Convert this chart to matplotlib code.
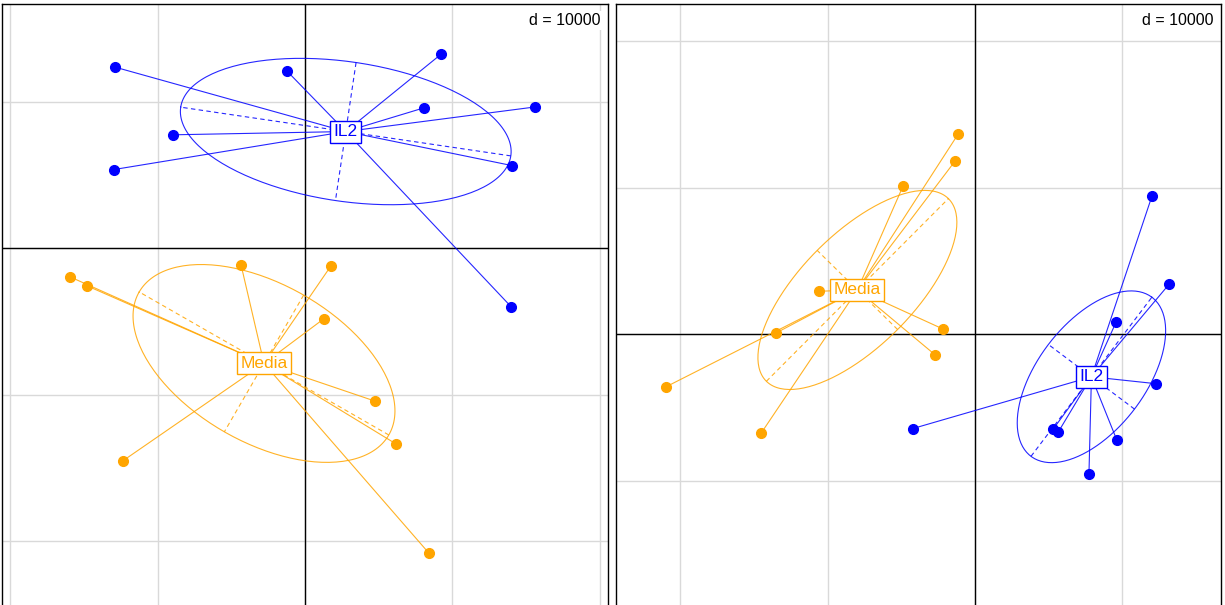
import numpy as np
import matplotlib
matplotlib.use("Agg")
import matplotlib.pyplot as plt

plt.rcParams["font.family"] = ["Liberation Sans", "DejaVu Sans"]

# -------------------------
# DATA (coordinates, units of the grid step d = 10000)
# -------------------------
left_il2_x = [-12890, -1220, 9230, 8070, 15600, -8960, -12960, 14040, 13980]
left_il2_y = [12350, 12080, 13230, 9570, 9630, 7730, 5360, 5630, -4000]
left_media_x = [-15940, -14790, -4340, 1760, 1290, 4750, 6170, -12350, 8410]
left_media_y = [-1970, -2580, -1150, -1220, -4820, -10450, -13370, -14520, -20830]

right_media_x = [-1150, -1360, -4880, -10580, -13500, -20960, -2170, -2710, -14520]
right_media_y = [13640, 11800, 10110, 2920, 70, -3600, 340, -1420, -6780]
right_il2_x = [12010, 13160, 9570, 12280, 9630, 7730, 5290, 5630, -4210]
right_il2_y = [9430, 3390, 810, -3390, -7260, -9570, -6510, -6720, -6450]

groups = ["IL2", "Media"]
colors = {"IL2": "#0000FF", "Media": "#FFA500"}
d_step = 10000

fig = plt.figure(figsize=(12.25, 6.05), dpi=100)
W, H = 1225, 605


def draw_class(ax, xs, ys, name):
    col = colors[name]
    xs = np.asarray(xs, float)
    ys = np.asarray(ys, float)
    mx, my = xs.mean(), ys.mean()
    # ellipse from the (population) covariance, coeff = 1
    cov = np.cov(xs, ys, bias=True)
    vals, vecs = np.linalg.eigh(cov)
    vals = np.clip(vals, 0, None)
    t = np.linspace(0, 2 * np.pi, 200)
    a1 = np.sqrt(vals[1]) * vecs[:, 1]
    a2 = np.sqrt(vals[0]) * vecs[:, 0]
    ex = mx + a1[0] * np.cos(t) + a2[0] * np.sin(t)
    ey = my + a1[1] * np.cos(t) + a2[1] * np.sin(t)
    ax.plot(ex, ey, color=col, lw=0.8, alpha=0.85, zorder=3)
    for a in (a1, a2):
        ax.plot([mx - a[0], mx + a[0]], [my - a[1], my + a[1]],
                color=col, lw=0.8, alpha=0.85, ls=(0, (4, 3)), zorder=3)
    for x, y in zip(xs, ys):
        ax.plot([mx, x], [my, y], color=col, lw=0.8, alpha=0.85, zorder=4)
    ax.plot(xs, ys, "o", color=col, ms=7, mec=col, zorder=5)
    ax.text(mx, my, name, color=col, fontsize=12.5, ha="center", va="center",
            zorder=6, bbox=dict(boxstyle="square,pad=0.2", fc="white", ec=col, lw=1))


def setup_panel(ax, xlim, ylim):
    ax.set_xlim(xlim)
    ax.set_ylim(ylim)
    for v in np.arange(np.ceil(xlim[0] / d_step), xlim[1] / d_step + 1) * d_step:
        ax.axvline(v, color="#D9D9D9", lw=1, zorder=0)
    for v in np.arange(np.ceil(ylim[0] / d_step), ylim[1] / d_step + 1) * d_step:
        ax.axhline(v, color="#D9D9D9", lw=1, zorder=0)
    ax.axvline(0, color="black", lw=1, zorder=1)
    ax.axhline(0, color="black", lw=1, zorder=1)
    ax.set_xticks([])
    ax.set_yticks([])
    for s in ax.spines.values():
        s.set_linewidth(1)
        s.set_color("black")
    ax.text(0.988, 0.985, "d = 10000", transform=ax.transAxes, ha="right", va="top",
            fontsize=11.5, zorder=7,
            bbox=dict(boxstyle="square,pad=0.15", fc="white", ec="none"))


# left panel (axes extends below the picture, as in the reference)
ax1 = fig.add_axes([2 / W, (605 - 610) / H, 606 / W, 606 / H])
setup_panel(ax1, (-20560, 20560), (-24710, 16660))
draw_class(ax1, left_il2_x, left_il2_y, "IL2")
draw_class(ax1, left_media_x, left_media_y, "Media")

# right panel
ax2 = fig.add_axes([616 / W, (605 - 610) / H, 605 / W, 606 / H])
setup_panel(ax2, (-24360, 16690), (-18840, 22530))
draw_class(ax2, right_media_x, right_media_y, "Media")
draw_class(ax2, right_il2_x, right_il2_y, "IL2")

fig.savefig("out.png", dpi=100)
